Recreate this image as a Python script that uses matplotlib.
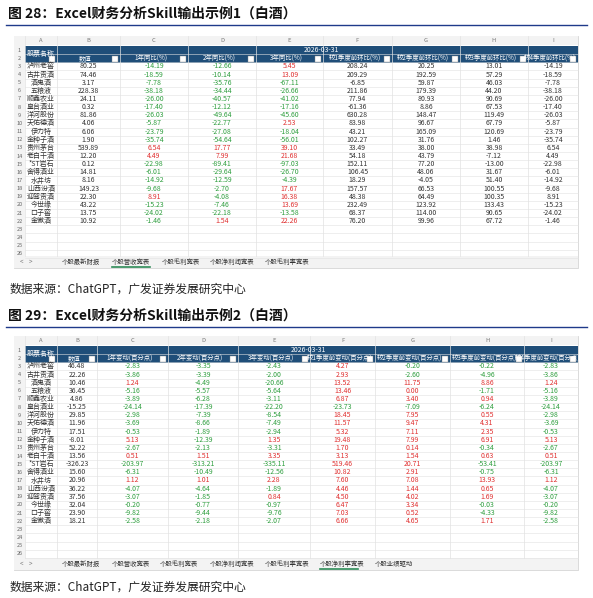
import matplotlib
matplotlib.use("Agg")
import matplotlib.pyplot as plt
from matplotlib.patches import Rectangle

plt.rcParams['font.family'] = ['Noto Sans CJK SC', 'DejaVu Sans']

names = ["泸州老窖", "古井贡酒", "酒鬼酒", "五粮液", "顺鑫农业", "皇台酒业", "洋河股份", "天佑德酒", "伊力特", "金种子酒",
         "贵州茅台", "老白干酒", "*ST岩石", "舍得酒业", "水井坊", "山西汾酒", "迎驾贡酒", "今世缘", "口子窖", "金徽酒"]

t1_headers = ["数值", "1年同比(%)", "2年同比(%)", "3年同比(%)", "较1季度前环比(%)", "较2季度前环比(%)", "较3季度前环比(%)", "较4季度前环比(%)"]
t1_B = [80.25, 74.46, 3.17, 228.38, 24.11, 0.32, 81.86, 4.06, 6.06, 1.90, 539.89, 12.20, 0.12, 14.81, 8.16, 149.23, 22.30, 43.22, 13.75, 10.92]
t1_C = [-14.19, -18.59, -7.78, -38.18, -26.00, -17.40, -26.03, -5.87, -23.79, -35.74, 6.54, 4.49, -22.98, -6.01, -14.92, -9.68, 8.91, -15.23, -24.02, -1.46]
t1_D = [-12.66, -10.14, -35.76, -34.44, -40.57, -12.12, -49.64, -22.77, -27.08, -54.64, 17.77, 7.99, -89.41, -29.64, -12.59, -2.70, -4.08, -7.46, -22.18, 1.54]
t1_E = [5.45, 13.09, -67.11, -26.66, -41.02, -17.16, -45.60, 2.53, -18.04, -56.01, 39.10, 21.68, -97.03, -26.70, -4.39, 17.67, 16.38, 13.69, -13.58, 22.26]
t1_F = [208.24, 209.29, -6.85, 211.86, 77.94, -61.36, 630.28, 83.98, 43.21, 102.27, 33.49, 54.18, 152.11, 106.45, 18.29, 157.57, 48.38, 232.49, 68.37, 76.20]
t1_G = [20.25, 192.59, 59.87, 179.39, 80.93, 8.86, 148.47, 96.67, 165.09, 31.76, 38.00, 43.79, 77.20, 48.06, -4.05, 66.53, 64.49, 123.92, 114.00, 99.96]
t1_H = [13.01, 57.29, 46.03, 44.20, 90.69, 67.53, 119.49, 67.79, 120.69, 1.46, 38.98, -7.12, -13.00, 31.67, 51.40, 100.55, 100.35, 133.43, 90.65, 67.72]
t1_I = [-14.19, -18.59, -7.78, -38.18, -26.00, -17.40, -26.03, -5.87, -23.79, -35.74, 6.54, 4.49, -22.98, -6.01, -14.92, -9.68, 8.91, -15.23, -24.02, -1.46]

t2_headers = ["数值", "1年变动(百分点)", "2年变动(百分点)", "3年变动(百分点)", "较1季度前变动(百分点)", "较2季度前变动(百分点)", "较3季度前变动(百分点)", "较4季度前变动(百分点)"]
t2_B = [46.48, 22.26, 10.46, 36.45, 4.86, -15.25, 29.85, 11.96, 17.51, -8.01, 52.22, 13.56, -326.23, 15.60, 20.96, 36.22, 37.56, 32.04, 23.90, 18.21]
t2_C = [-2.83, -3.86, 1.24, -5.16, -3.89, -24.14, -2.98, -3.69, -0.53, 5.13, -2.67, 0.51, -203.97, -6.31, 1.12, -4.07, -3.07, -0.20, -9.82, -2.58]
t2_D = [-3.35, -3.39, -4.49, -5.57, -6.28, -17.39, -7.39, -8.66, -1.89, -12.39, -2.13, 1.51, -313.21, -10.49, 1.01, -4.64, -1.85, -0.77, -9.44, -2.18]
t2_E = [-2.43, -2.00, -20.66, -5.64, -3.11, -22.20, -8.54, -7.49, -2.94, 1.35, -3.31, 3.35, -335.11, -12.56, 2.28, -1.89, 0.84, -0.97, -9.76, -2.07]
t2_F = [4.27, 2.93, 13.52, 13.46, 6.87, -23.73, 18.45, 11.57, 5.32, 19.48, 1.70, 3.13, 519.46, 10.82, 7.60, 4.46, 4.50, 6.47, 7.03, 6.66]
t2_G = [-0.20, -2.60, 11.75, 0.00, 3.40, -7.09, 7.95, 9.47, 7.11, 7.99, 0.14, 1.54, 20.71, 2.91, 7.08, 1.44, 4.02, 3.34, 0.52, 4.65]
t2_H = [-0.22, -4.96, 8.86, -1.71, 0.94, -6.24, 0.55, 4.31, 2.35, 6.91, -0.34, 0.63, -53.41, -0.75, 13.93, 0.65, 1.69, -0.03, -4.33, 1.71]
t2_I = [-2.83, -3.86, 1.24, -5.16, -3.89, -24.14, -2.98, -3.69, -0.53, 5.13, -2.67, 0.51, -203.97, -6.31, 1.12, -4.07, -3.07, -0.20, -9.82, -2.58]

tabs1 = ["个股最新财报", "个股营收宽表", "个股毛利宽表", "个股净利润宽表", "个股毛利率宽表"]
tabs2 = ["个股最新财报", "个股营收宽表", "个股毛利宽表", "个股净利润宽表", "个股毛利率宽表", "个股净利率宽表", "个股业绩驱动"]

W, H = 593, 598
fig = plt.figure(figsize=(W / 100, H / 100), dpi=100)
ax = fig.add_axes([0, 0, 1, 1])
ax.set_xlim(0, W)
ax.set_ylim(H, 0)
ax.axis("off")

NAVY = "#1F4E79"
RED = "#E03030"
GREEN = "#2E9E3E"
GRID = "#E2E2E2"
TITLE_BLUE = "#1F3A5F"


def caption(y, text):
    ax.text(8, y, text, fontsize=10, fontweight="bold", color="#111111", va="center")
    ax.plot([6, 587], [y + 11, y + 11], color="#1F3A8A", lw=1.0)


def source(y):
    ax.text(10, y, "数据来源：ChatGPT，广发证券发展研究中心", fontsize=8.5, color="#222222", va="center")


def sheet(top, bottom, colx, headers, cols, colored, tabs, active, tabx):
    # background
    ax.add_patch(Rectangle((14, top), 564, bottom - top, fc="white", ec="#CCCCCC", lw=0.5))
    # column letter bar
    ax.add_patch(Rectangle((14, top), 564, 9, fc="#F3F3F3", ec="none"))
    letters = "ABCDEFGHI"
    for i in range(len(colx) - 1):
        ax.text((colx[i] + colx[i + 1]) / 2, top + 4.5, letters[i], fontsize=4.2, color="#777777", ha="center", va="center")
        ax.plot([colx[i], colx[i]], [top, bottom - 12], color=GRID, lw=0.5)
    ax.add_patch(Rectangle((14, top), colx[0] - 14, bottom - 12 - top, fc="#F3F3F3", ec="none"))
    # header
    h0 = top + 10
    rh = 8.15
    ax.add_patch(Rectangle((colx[0], h0), colx[-1] - colx[0], 2 * rh + 1, fc=NAVY, ec="none"))
    ax.text((colx[0] + colx[1]) / 2, h0 + rh, "股票名称", fontsize=5, color="white", ha="center", va="center")
    ax.text(colx[5] - 2, h0 + rh / 2, "2026-03-31", fontsize=5, color="white", ha="center", va="center")
    for j, hd in enumerate(headers):
        x0, x1 = colx[j + 1], colx[j + 2]
        t = ax.text((x0 + x1) / 2 - 3, h0 + 1.5 * rh + 0.5, hd, fontsize=4.6, color="white", ha="center", va="center")
        t.set_clip_path(Rectangle((x0, h0), x1 - x0 - 8, 2 * rh + 1, transform=ax.transData))
        ax.add_patch(Rectangle((x1 - 8, h0 + rh + 1.5), 6, 6, fc="white", ec="#888888", lw=0.3))
    ax.add_patch(Rectangle((colx[1] - 8, h0 + rh + 1.5), 6, 6, fc="white", ec="#888888", lw=0.3))
    # rows
    nrow = 26
    for r in range(nrow):
        y = h0 + r * rh
        ax.text(19.5, y + rh / 2, str(r + 1), fontsize=4, color="#666666", ha="center", va="center")
        ax.plot([colx[0], colx[-1]], [y + rh, y + rh], color=GRID, lw=0.4)
    for i, nm in enumerate(names):
        y = h0 + (i + 2.5) * rh
        ax.text((colx[0] + colx[1]) / 2, y, nm, fontsize=5, color="#333333", ha="center", va="center")
        for j, col in enumerate(cols):
            v = col[i]
            c = "#333333"
            if colored[j]:
                c = RED if v >= 0 else GREEN
            ax.text((colx[j + 1] + colx[j + 2]) / 2, y, f"{v:.2f}", fontsize=5, color=c, ha="center", va="center")
    # tab bar
    ax.add_patch(Rectangle((14, bottom - 12), 564, 12, fc="#F3F3F3", ec="none"))
    ax.text(20, bottom - 6, "<    >", fontsize=4.5, color="#777777", va="center")
    for k, tb in enumerate(tabs):
        x = tabx[k]
        ax.text(x, bottom - 6, tb, fontsize=4.6, color="#333333", va="center")
        if k == active:
            ax.plot([x, x + 38], [bottom - 1.5, bottom - 1.5], color="#2E8B57", lw=1.2)


caption(14, "图 28：Excel财务分析Skill输出示例1（白酒）")
colx1 = [25, 57, 120, 188, 256, 323, 392, 460, 528, 578]
sheet(36, 268, colx1, t1_headers, [t1_B, t1_C, t1_D, t1_E, t1_F, t1_G, t1_H, t1_I],
      [False, True, True, True, False, False, False, False], tabs1, 1,
      [62, 112, 162, 210, 265])
source(289)

caption(316, "图 29：Excel财务分析Skill输出示例2（白酒）")
colx2 = [25, 57, 97, 168, 238, 310, 375, 450, 524, 578]
sheet(336, 570, colx2, t2_headers, [t2_B, t2_C, t2_D, t2_E, t2_F, t2_G, t2_H, t2_I],
      [False, True, True, True, True, True, True, True], tabs2, 5,
      [62, 112, 160, 210, 265, 320, 375])
source(587)

fig.savefig("out.png", dpi=100)
